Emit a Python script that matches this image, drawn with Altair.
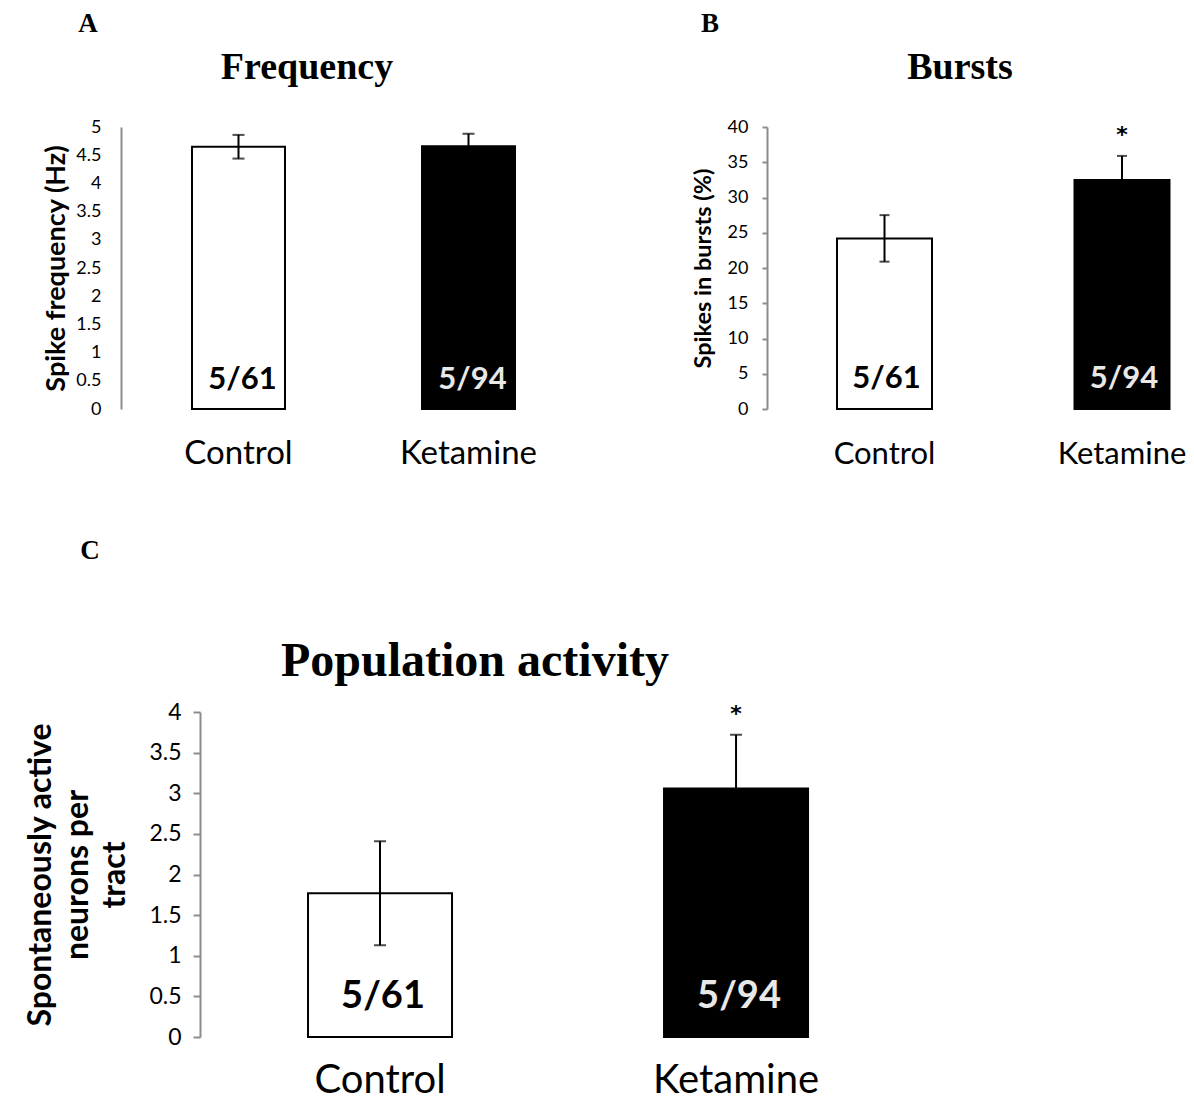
import altair as alt
import pandas as pd

# ---------------- data ----------------
groups = ["Control", "Ketamine"]
cell_counts = ["5/61", "5/94"]

freq_mean = [4.65, 4.66]
freq_sem = [0.21, 0.22]
freq_sig = ["", ""]
freq_ticks = [0, 0.5, 1, 1.5, 2, 2.5, 3, 3.5, 4, 4.5, 5]

burst_mean = [24.2, 32.5]
burst_sem = [3.3, 3.4]
burst_sig = ["", "*"]
burst_ticks = [0, 5, 10, 15, 20, 25, 30, 35, 40]

pop_mean = [1.77, 3.06]
pop_sem = [0.64, 0.66]
pop_sig = ["", "*"]
pop_ticks = [0, 0.5, 1, 1.5, 2, 2.5, 3, 3.5, 4]

AX_GRAY = "#8c8c8c"
SERIF = "Liberation Serif"
SANS = "Lato"


def panel(mean, sem, sig, ticks, ytitle, letter, title, *, W, H, pi, po, align,
          tick_size, label_pad, label_size, ytitle_size, ytitle_x, ytitle_lh,
          xlabel_size, xlabel_pad, count_size, count_dy, count_dx, star_dy, cap,
          axis_offset, letter_xy, title_xy, title_size, x_range=None, anchor=False):
    df = pd.DataFrame({
        "group": groups,
        "mean": mean,
        "lo": [m - s for m, s in zip(mean, sem)],
        "hi": [m + s for m, s in zip(mean, sem)],
        "count": cell_counts,
        "sig": sig,
        "base": [0, 0],
    })
    skw = dict(paddingInner=pi, paddingOuter=po, align=align)
    if x_range is not None:
        skw.update(range=x_range)
    xenc = alt.X(
        "group:N", sort=groups,
        scale=alt.Scale(**skw),
        axis=alt.Axis(title=None, labelAngle=0, domain=False, ticks=False, tickSize=0,
                      labelFont=SANS, labelFontSize=xlabel_size, labelColor="black",
                      labelPadding=xlabel_pad, labelBaseline="alphabetic"),
    )
    yscale = alt.Scale(domain=[0, ticks[-1]], nice=False, zero=True)
    axkw = dict(
        values=ticks, format="~g", grid=False, labelOverlap=False,
        domainColor=AX_GRAY, domainWidth=2,
        labelFont=SANS, labelFontSize=label_size, labelColor="black",
        labelPadding=label_pad,
        title=ytitle, titleFont=SANS, titleFontWeight="bold", titleFontSize=ytitle_size,
        titleColor="black", titleAngle=-90, titleAlign="center", titleBaseline="middle",
        titleX=ytitle_x, titleY=H / 2, titleLineHeight=ytitle_lh,
    )
    if tick_size > 0:
        axkw.update(ticks=True, tickSize=tick_size, tickColor=AX_GRAY, tickWidth=2)
    else:
        axkw.update(ticks=False, tickSize=0)
    if axis_offset != 0:
        axkw.update(offset=axis_offset)
    yaxis = alt.Axis(**axkw)

    def Y(field):
        return alt.Y(field, scale=yscale, axis=yaxis)

    base = alt.Chart(df)
    is_ctrl = alt.datum.group == groups[0]
    bars = base.mark_bar(stroke="black", strokeWidth=2).encode(
        x=xenc, y=Y("mean:Q"),
        fill=alt.condition(is_ctrl, alt.value("white"), alt.value("black")),
    )
    err = base.mark_rule(color="black", strokeWidth=2).encode(
        x=xenc, y=Y("lo:Q"), y2="hi:Q")
    cap_hi = base.mark_tick(color="black", thickness=2, size=cap).encode(
        x=xenc, y=Y("hi:Q"))
    cap_lo = base.mark_tick(color="black", thickness=2, size=cap).encode(
        x=xenc, y=Y("lo:Q"))
    counts = base.mark_text(font=SANS, fontWeight="bold", fontSize=count_size,
                            baseline="alphabetic", dy=-count_dy, dx=count_dx).encode(
        x=xenc, y=Y("base:Q"), text="count:N",
        color=alt.condition(is_ctrl, alt.value("black"), alt.value("#e8e8e8")),
    )
    stars = base.mark_text(font="DejaVu Sans", fontWeight="bold", fontSize=22,
                           baseline="alphabetic", dy=-star_dy, color="black").encode(
        x=xenc, y=Y("hi:Q"), text="sig:N")

    tdf = pd.DataFrame({"t": [title]})
    ldf = pd.DataFrame({"t": [letter]})
    ttl = alt.Chart(tdf).mark_text(font=SERIF, fontWeight="bold", fontSize=title_size,
                                   baseline="alphabetic", align="center", color="black").encode(
        text="t:N", x=alt.value(title_xy[0]), y=alt.value(title_xy[1]))
    let = alt.Chart(ldf).mark_text(font=SERIF, fontWeight="bold", fontSize=27,
                                   baseline="alphabetic", align="center", color="black").encode(
        text="t:N", x=alt.value(letter_xy[0]), y=alt.value(letter_xy[1]))
    layers = [bars, err, cap_hi, cap_lo, counts, stars, ttl, let]
    if anchor:
        anc = alt.Chart(ldf).mark_rule(color="white", strokeWidth=1).encode(
            x=alt.value(-112.5), x2=alt.value(-111.5),
            y=alt.value(-118.5), y2=alt.value(-118.5))
        layers.append(anc)
    return alt.layer(*layers).properties(width=W, height=H)


pA = panel(freq_mean, freq_sem, freq_sig, freq_ticks, "Spike frequency (Hz)", "A", "Frequency",
           W=465, H=282, pi=0.5957, po=0.3087, align=0.5,
           tick_size=0, label_pad=20, label_size=18, ytitle_size=27, ytitle_x=-65, ytitle_lh=30,
           xlabel_size=33, xlabel_pad=54, count_size=31, count_dy=20, count_dx=4, star_dy=14,
           cap=12, axis_offset=0, letter_xy=(-33, -95), title_xy=(186, -48), title_size=38,
           anchor=True)

pB = panel(burst_mean, burst_sem, burst_sig, burst_ticks, "Spikes in bursts (%)", "B", "Bursts",
           W=412, H=282, pi=0.6, po=0.1674, align=0.8805,
           tick_size=5, label_pad=14, label_size=18, ytitle_size=23.5, ytitle_x=-64, ytitle_lh=28,
           xlabel_size=31, xlabel_pad=54, count_size=31, count_dy=21, count_dx=2, star_dy=14,
           cap=10, axis_offset=0, letter_xy=(-57, -95), title_xy=(193, -48), title_size=38)

pC = panel(pop_mean, pop_sem, pop_sig, pop_ticks,
           ["Spontaneously active", "neurons per", "tract"], "C", "Population activity",
           W=465, H=325, pi=0.5955, po=0.4143, align=0.634, x_range=[0, 795],
           tick_size=7, label_pad=12, label_size=23, ytitle_size=32, ytitle_x=-160, ytitle_lh=37,
           xlabel_size=40, xlabel_pad=55, count_size=38, count_dy=29, count_dx=3, star_dy=14,
           cap=12, axis_offset=-79, letter_xy=(-31, -153), title_xy=(354, -36), title_size=48)

chart = alt.concat(
    pA, pB, pC, columns=2, align="none", bounds="flush",
    spacing={"row": 303, "column": 181},
).properties(padding=0).configure_view(stroke=None)

chart.save("out.html", embed_options={"renderer": "svg", "actions": False})
